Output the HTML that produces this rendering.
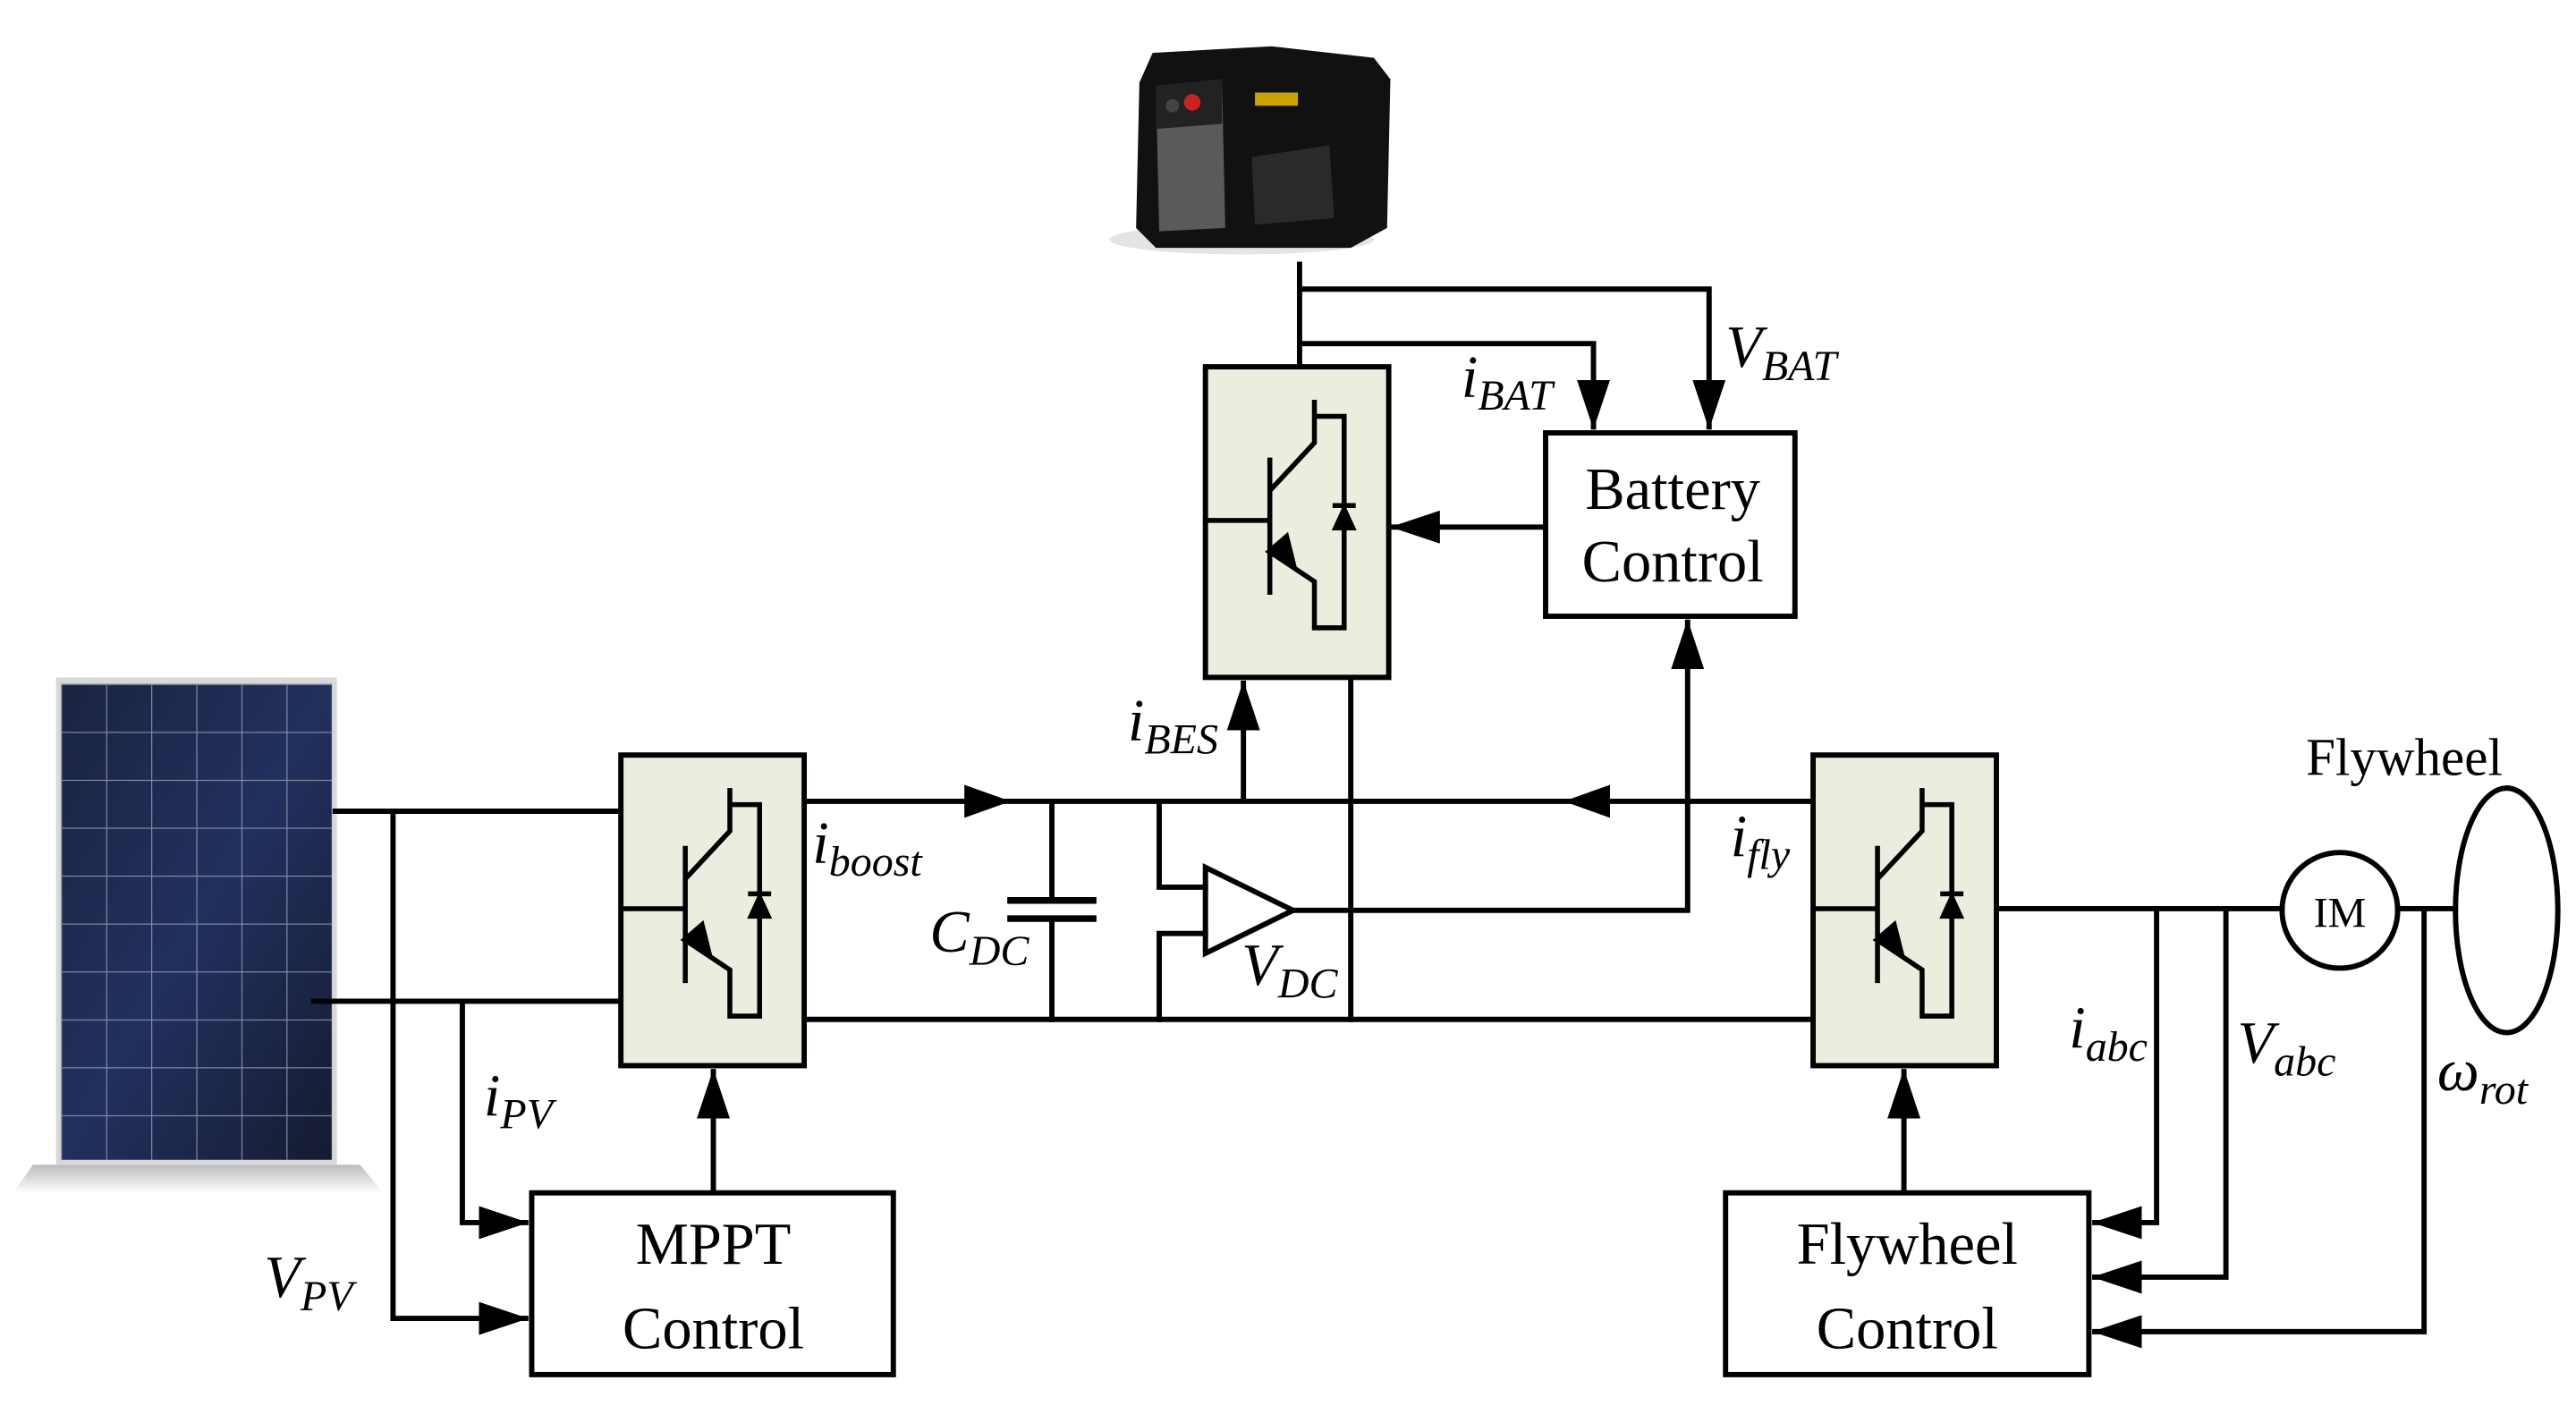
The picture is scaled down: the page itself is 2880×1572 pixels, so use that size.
<!DOCTYPE html>
<html><head><meta charset="utf-8"><style>
html,body{margin:0;padding:0;background:#fff;}
svg{display:block;}
text{font-family:"Liberation Serif","Times New Roman",serif;fill:#000;}
</style></head><body>
<svg width="2880" height="1572" viewBox="0 0 1560 851" preserveAspectRatio="none" xmlns="http://www.w3.org/2000/svg" font-family="Liberation Serif, Times New Roman, serif">
<defs>
<linearGradient id="sh" x1="0" y1="0" x2="0" y2="1"><stop offset="0" stop-color="#bbb"/><stop offset="1" stop-color="#fff"/></linearGradient>
<linearGradient id="pv" x1="0" y1="0" x2="1" y2="1"><stop offset="0" stop-color="#1a2340"/><stop offset="0.5" stop-color="#22305e"/><stop offset="1" stop-color="#151b30"/></linearGradient>
<pattern id="grid" x="37" y="414" width="27.3" height="29" patternUnits="userSpaceOnUse"><path d="M0 0H27.3M0 0V29" stroke="#8891aa" stroke-width="1.2" fill="none"/></pattern>
<g id="igbt">
<rect x="0" y="0" width="111" height="188" fill="#ebeedf" stroke="#000" stroke-width="3.2"/>
<g stroke="#000" stroke-width="3" fill="none">
<path d="M0 93H39M39 55V138M39 75L66 46V20M66 30H84V158H66V130L39 112"/>
<path d="M77 84H91"/>
</g>
<path d="M78 98H90L84 85Z" fill="#000" stroke="#000" stroke-width="2"/>
<path d="M36 112L50 100L56 124Z" fill="#000"/>
</g>
<marker id="a" viewBox="0 0 30 20" refX="30" refY="10" markerWidth="30" markerHeight="20" markerUnits="userSpaceOnUse" orient="auto"><path d="M0 0L30 10L0 20Z"/></marker>
</defs>

<polygon points="20,705 218,705 232,722 8,722" fill="url(#sh)"/>
<rect x="34" y="410" width="170" height="295" fill="#d8d8d8"/>
<rect x="37" y="414" width="164" height="288" fill="url(#pv)"/>
<rect x="37" y="414" width="164" height="288" fill="url(#grid)"/>

<g>
<ellipse cx="752" cy="145" rx="80" ry="9" fill="#e4e4e4"/>
<polygon points="690,50 698,32 770,28 832,35 842,48 840,138 818,150 700,150 688,138" fill="#111"/>
<polygon points="700,52 740,48 742,138 702,140" fill="#5a5a5a"/>
<polygon points="700,52 740,48 740,75 700,78" fill="#222"/>
<circle cx="710" cy="64" r="4" fill="#444"/>
<circle cx="722" cy="62" r="5" fill="#c22"/>
<rect x="760" y="56" width="26" height="8" fill="#c9a400"/>
<polygon points="758,95 805,88 808,132 760,136" fill="#2a2a2a"/>
</g>

<g stroke="#000" stroke-width="3.2" fill="none" stroke-linecap="square">
<path d="M203 491H376M190 606H376"/>
<path d="M238 491V798H320" marker-end="url(#a)" stroke-linecap="butt"/>
<path d="M280 606V740H320" marker-end="url(#a)" stroke-linecap="butt"/>
<path d="M432 722V647" marker-end="url(#a)" stroke-linecap="butt"/>
<path d="M487 485H1098M487 617H1098"/>
<path d="M637 485V545M637 556V617"/>
<path d="M612 545H662M612 556H662" stroke-width="4"/>
<path d="M702 485V537H730M702 617V565H730"/>
<path d="M730 525L783 551L730 577Z"/>
<path d="M783 551H1022V375" marker-end="url(#a)" stroke-linecap="butt"/>
<path d="M787 222V160"/>
<path d="M787 175H1035V260" marker-end="url(#a)" stroke-linecap="butt"/>
<path d="M787 208H965V260" marker-end="url(#a)" stroke-linecap="butt"/>
<path d="M936 319H842" marker-end="url(#a)" stroke-linecap="butt"/>
<path d="M753 485V412" marker-end="url(#a)" stroke-linecap="butt"/>
<path d="M818 410V617"/>
<path d="M1208 550H1382M1452 550H1487"/>
<path d="M1306 550V740H1267" marker-end="url(#a)" stroke-linecap="butt"/>
<path d="M1348 550V773H1267" marker-end="url(#a)" stroke-linecap="butt"/>
<path d="M1468 551V806H1267" marker-end="url(#a)" stroke-linecap="butt"/>
<path d="M1153 722V647" marker-end="url(#a)" stroke-linecap="butt"/>
<circle cx="1417" cy="551" r="35"/>
<ellipse cx="1518" cy="551" rx="31" ry="74"/>
<rect x="322" y="722" width="219" height="110"/>
<rect x="936" y="262" width="151" height="111"/>
<rect x="1045" y="722" width="220" height="110"/>
</g>
<path d="M584 475L612 485L584 495Z"/>
<path d="M975 475L947 485L975 495Z"/>

<use href="#igbt" x="376" y="457"/>
<use href="#igbt" x="730" y="222"/>
<use href="#igbt" x="1098" y="457"/>

<g font-size="36" text-anchor="middle">
<text x="432" y="765">MPPT</text>
<text x="432" y="816">Control</text>
<text x="1013" y="308">Battery</text>
<text x="1013" y="352">Control</text>
<text x="1155" y="765">Flywheel</text>
<text x="1155" y="816">Control</text>
<text x="1456" y="469" font-size="32">Flywheel</text>
<text x="1417" y="561" font-size="26">IM</text>
</g>
<g font-style="italic" font-size="36">
<text x="492" y="522">i<tspan font-size="26" dy="8">boost</tspan></text>
<text x="293" y="675">i<tspan font-size="26" dy="8">PV</tspan></text>
<text x="160" y="785">V<tspan font-size="26" dy="8">PV</tspan></text>
<text x="563" y="576">C<tspan font-size="26" dy="8">DC</tspan></text>
<text x="752" y="596">V<tspan font-size="26" dy="8">DC</tspan></text>
<text x="683" y="448">i<tspan font-size="26" dy="8">BES</tspan></text>
<text x="885" y="240">i<tspan font-size="26" dy="8">BAT</tspan></text>
<text x="1045" y="222">V<tspan font-size="26" dy="8">BAT</tspan></text>
<text x="1048" y="518">i<tspan font-size="26" dy="8">fly</tspan></text>
<text x="1253" y="634">i<tspan font-size="26" dy="8">abc</tspan></text>
<text x="1355" y="643">V<tspan font-size="26" dy="8">abc</tspan></text>
<text x="1476" y="660">ω<tspan font-size="26" dy="8">rot</tspan></text>
</g>
</svg>
</body></html>
